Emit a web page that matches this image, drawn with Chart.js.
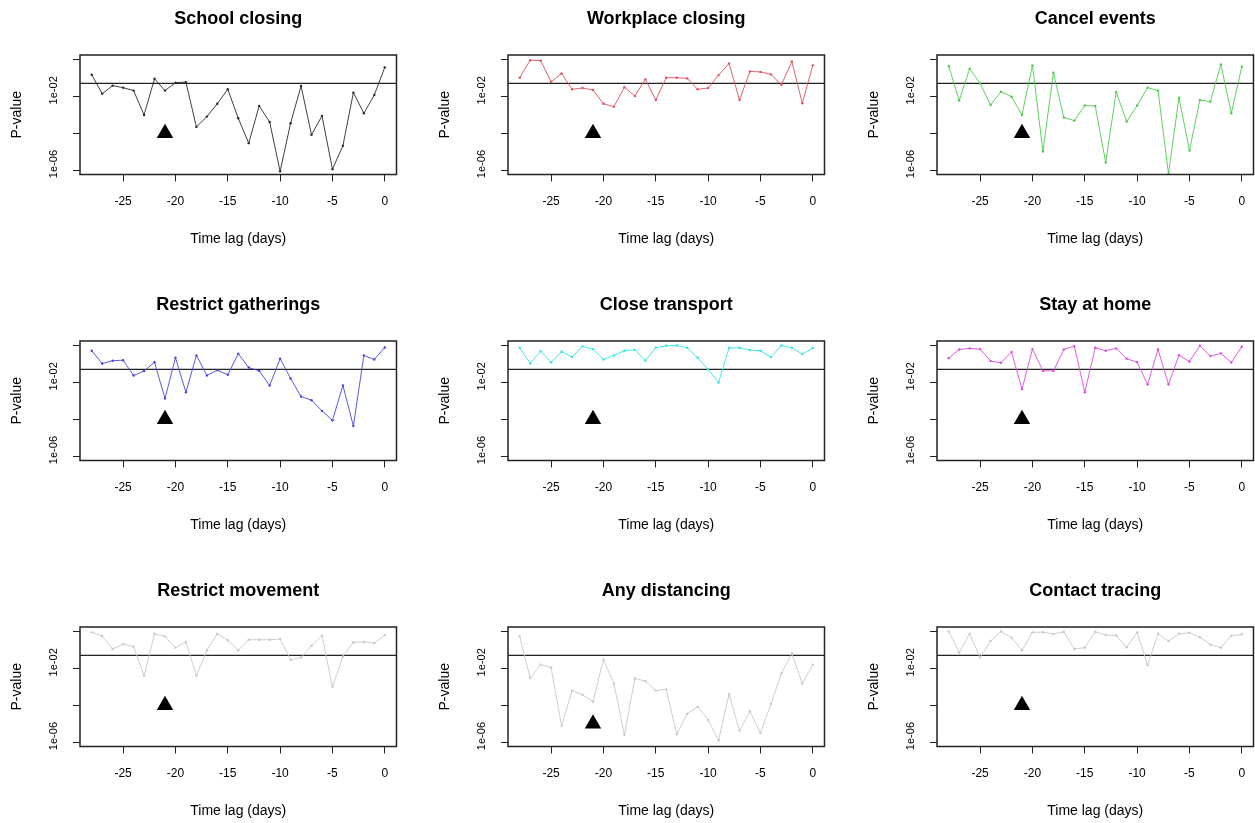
<!DOCTYPE html>
<html>
<head>
<meta charset="utf-8">
<script src="https://cdn.jsdelivr.net/npm/chart.js@4.4.1/dist/chart.umd.min.js"></script>
<style>
  html, body { margin: 0; padding: 0; background: #fff; overflow: hidden; }
  #wrap { position: relative; width: 1255px; height: 823px; overflow: hidden; }
  #wrap canvas { position: absolute; }
</style>
</head>
<body>
<div id="wrap"></div>
<script>
// Time lags (days) and axis ticks
var lags = [-28, -27, -26, -25, -24, -23, -22, -21, -20, -19, -18, -17, -16, -15,
            -14, -13, -12, -11, -10, -9, -8, -7, -6, -5, -4, -3, -2, -1, 0];
var xTicks = [-25, -20, -15, -10, -5, 0];
var yTicks = [1, 1e-2, 1e-4, 1e-6];
var yTickLabels = ['', '1e-02', '', '1e-06'];

// log10(P-value) per lag
var schoolClosing = [-0.83, -1.86, -1.42, -1.53, -1.69, -3.01, -1.05, -1.69, -1.26, -1.23, -3.66, -3.10, -2.40, -1.62,
                     -3.19, -4.54, -2.52, -3.39, -6.07, -3.46, -1.44, -4.09, -3.06, -5.95, -4.68, -1.80, -2.92, -1.93, -0.43];
var workplaceClosing = [-0.99, -0.04, -0.07, -1.21, -0.76, -1.62, -1.55, -1.66, -2.40, -2.56, -1.51, -1.98, -1.08, -2.20,
                        -0.99, -0.99, -1.03, -1.62, -1.55, -0.85, -0.22, -2.20, -0.65, -0.68, -0.81, -1.37, -0.11, -2.38, -0.32];
var cancelEvents = [-0.36, -2.23, -0.50, -1.30, -2.47, -1.75, -2.02, -3.01, -0.32, -4.99, -0.72, -3.15, -3.32, -2.50,
                    -2.52, -5.59, -1.77, -3.37, -2.50, -1.53, -1.69, -6.20, -2.07, -4.94, -2.20, -2.29, -0.27, -2.92, -0.40];
var restrictGatherings = [-0.29, -0.98, -0.83, -0.80, -1.63, -1.39, -0.91, -2.88, -0.67, -2.54, -0.54, -1.63, -1.34, -1.59,
                          -0.45, -1.20, -1.38, -2.17, -0.72, -1.79, -2.77, -2.97, -3.55, -4.06, -2.17, -4.37, -0.54, -0.76, -0.11];
var closeTransport = [-0.13, -0.98, -0.31, -0.91, -0.34, -0.63, -0.05, -0.20, -0.76, -0.54, -0.29, -0.24, -0.82, -0.13,
                      -0.02, 0.00, -0.13, -0.67, -1.30, -2.01, -0.14, -0.13, -0.25, -0.29, -0.63, 0.00, -0.13, -0.47, -0.14];
var stayAtHome = [-0.69, -0.22, -0.16, -0.20, -0.85, -0.94, -0.36, -2.37, -0.20, -1.38, -1.38, -0.22, -0.04, -2.54,
                  -0.13, -0.29, -0.16, -0.72, -0.91, -2.12, -0.22, -2.12, -0.53, -0.87, -0.02, -0.58, -0.43, -0.92, -0.07];
var restrictMovement = [-0.05, -0.25, -0.95, -0.68, -0.83, -2.41, -0.13, -0.27, -0.88, -0.57, -2.41, -1.02, -0.13, -0.48,
                        -1.02, -0.45, -0.45, -0.45, -0.41, -1.54, -1.42, -0.77, -0.23, -3.00, -1.36, -0.59, -0.57, -0.63, -0.20];
var anyDistancing = [-0.27, -2.53, -1.80, -1.96, -5.12, -3.21, -3.43, -3.81, -1.53, -2.82, -5.60, -2.55, -2.69, -3.21,
                     -3.14, -5.57, -4.47, -4.08, -4.80, -5.91, -3.40, -5.39, -4.33, -5.51, -3.93, -2.28, -1.20, -2.82, -1.80];
var contactTracing = [0.00, -1.15, -0.13, -1.42, -0.52, 0.00, -0.34, -1.02, -0.05, -0.04, -0.14, -0.02, -0.95, -0.88,
                      -0.02, -0.20, -0.22, -0.86, -0.05, -1.83, -0.13, -0.52, -0.13, -0.07, -0.31, -0.72, -0.88, -0.23, -0.16];

var titles = ['School closing', 'Workplace closing', 'Cancel events',
              'Restrict gatherings', 'Close transport', 'Stay at home',
              'Restrict movement', 'Any distancing', 'Contact tracing'];
var series = [schoolClosing, workplaceClosing, cancelEvents,
              restrictGatherings, closeTransport, stayAtHome,
              restrictMovement, anyDistancing, contactTracing];
var colors = ['#2a2a2a', '#e0505e', '#4ccc4c', '#4646e0', '#30e4e8', '#e048e0', '#c8c8c8', '#c8c8c8', '#c8c8c8'];
var threshold = 0.05;
var markerLag = -21;
var markerP = [1e-4, 1e-4, 1e-4, 1e-4, 1e-4, 1e-4, 1e-4, 1e-5, 1e-4];

var xMin = -29.12, xMax = 1.12;
var yMin = Math.pow(10, -6.24), yMax = Math.pow(10, 0.24);

// R-style box around the plot region
var boxPlugin = {
  id: 'box',
  afterDraw: function(chart) {
    var a = chart.chartArea, ctx = chart.ctx;
    ctx.save();
    ctx.strokeStyle = '#222';
    ctx.lineWidth = 1.5;
    ctx.strokeRect(a.left, a.top, a.right - a.left, a.bottom - a.top);
    ctx.restore();
  }
};

var font = "'Liberation Sans', Arial, Helvetica, sans-serif";
var wrap = document.getElementById('wrap');

for (var i = 0; i < 9; i++) {
  var col = i % 3, row = Math.floor(i / 3);
  var cv = document.createElement('canvas');
  cv.width = 428;
  cv.height = 286;
  cv.style.left = Math.round(6 + col * 428.3) + 'px';
  cv.style.top = (row * 286) + 'px';
  wrap.appendChild(cv);

  var vals = series[i];
  var pts = lags.map(function(x, k) { return {x: x, y: Math.pow(10, vals[k])}; });

  new Chart(cv.getContext('2d'), {
    type: 'line',
    data: {
      datasets: [{
        data: pts,
        borderColor: colors[i],
        backgroundColor: colors[i],
        borderWidth: 0.9,
        pointRadius: 1.2,
        pointBorderWidth: 0,
        tension: 0
      }, {
        data: [{x: xMin, y: threshold}, {x: xMax, y: threshold}],
        borderColor: '#222',
        borderWidth: 1.4,
        pointRadius: 0
      }, {
        type: 'scatter',
        data: [{x: markerLag, y: markerP[i]}],
        pointStyle: 'triangle',
        pointRadius: 9.5,
        backgroundColor: '#000',
        borderColor: '#000',
        borderWidth: 0
      }]
    },
    options: {
      responsive: false,
      animation: false,
      layout: {padding: {left: 0, right: 37.5, top: 0, bottom: 0}},
      plugins: {legend: {display: false}, tooltip: {enabled: false}, title: {display: false}},
      scales: {
        x: {
          type: 'linear', position: 'bottom', min: xMin, max: xMax,
          afterBuildTicks: function(s) { s.ticks = xTicks.map(function(v) { return {value: v}; }); },
          afterFit: function(s) { s.height = 111.5; },
          ticks: {autoSkip: false, maxRotation: 0, padding: 13, color: '#000',
                  font: {family: font, size: 12}},
          grid: {drawOnChartArea: false, drawTicks: true, tickLength: 7, color: '#222'},
          border: {display: false},
          title: {display: true, text: 'Time lag (days)', color: '#000',
                  font: {family: font, size: 14}, padding: {top: 0, bottom: 38.5}}
        },
        xTop: {
          type: 'linear', position: 'top', axis: 'x', min: xMin, max: xMax,
          afterFit: function(s) { s.height = 55; },
          ticks: {display: false},
          grid: {display: false},
          border: {display: false},
          title: {display: true, text: titles[i], color: '#000',
                  font: {family: font, size: 18, weight: 'bold'}, padding: {top: 8, bottom: 0}}
        },
        y: {
          type: 'logarithmic', position: 'left', min: yMin, max: yMax,
          afterBuildTicks: function(s) { s.ticks = yTicks.map(function(v) { return {value: v}; }); },
          afterFit: function(s) { s.width = 74; },
          ticks: {
            minRotation: 90, maxRotation: 90, crossAlign: 'center', padding: 5, labelOffset: -6,
            color: '#000', font: {family: font, size: 11},
            callback: function(v, idx) { return yTickLabels[idx]; }
          },
          grid: {drawOnChartArea: false, drawTicks: true, tickLength: 7, color: '#222'},
          border: {display: false},
          title: {display: true, text: 'P-value', color: '#000',
                  font: {family: font, size: 14}, padding: {top: 3, bottom: 0}}
        }
      }
    },
    plugins: [boxPlugin]
  });
}
</script>
</body>
</html>
